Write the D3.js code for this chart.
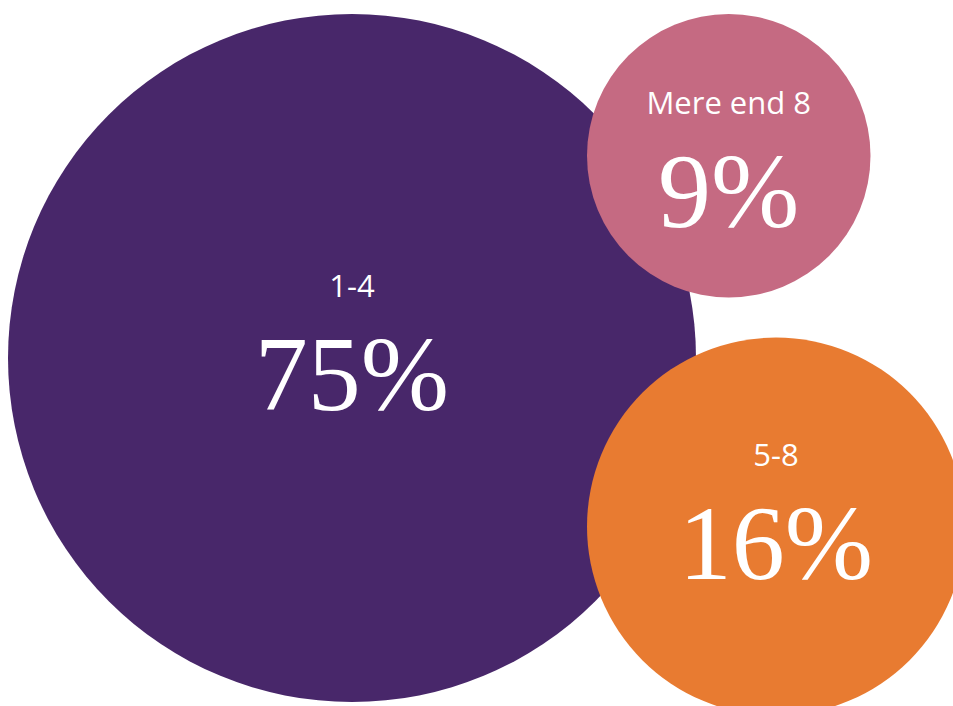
<!DOCTYPE html>
<html>
<head>
<meta charset="utf-8">
<script src="https://cdn.jsdelivr.net/npm/d3@7"></script>
<style>
  html, body { margin: 0; padding: 0; background: #ffffff; }
  svg { display: block; }
  .cat { font-family: "Open Sans", sans-serif; font-size: 31px; fill: #ffffff; }
  .val { font-family: "Liberation Serif", serif; font-size: 106px; fill: #ffffff; }
</style>
</head>
<body>
<svg id="chart"></svg>
<script>
// Share of respondents by group size
const categories = ["1-4", "Mere end 8", "5-8"];
const shares = [75, 9, 16];
const colors = ["#48276a", "#c56a82", "#e87b31"];

const width = 953, height = 706;

const svg = d3.select("#chart")
  .attr("width", width)
  .attr("height", height)
  .attr("viewBox", [0, 0, width, height]);

// Bubble area follows the share; the biggest bubble is capped to fit the frame.
const rScale = d3.scaleSqrt().domain([0, 16]).range([0, 189]);
const maxR = 344;
const radius = v => Math.min(rScale(v), maxR);

// Layout: main bubble at the left, the two smaller ones stacked in a column
// on its right-hand side, overlapping it slightly.
const margin = { left: 8, top: 14 };
const overlap = 109;   // how far the right column reaches into the main bubble
const gap = 40;        // vertical space between the two smaller bubbles

const r = shares.map(radius);
const main = { cx: margin.left + r[0], cy: margin.top + r[0] };
const colLeft = margin.left + 2 * r[0] - overlap;
const top1 = { cx: colLeft + r[1], cy: margin.top + r[1] };
const top2 = { cx: colLeft + r[2], cy: margin.top + 2 * r[1] + gap + r[2] };
const centers = [main, top1, top2];

// Vertical nudge of each text block relative to its bubble centre
const textShift = [0, 19, 0];

const nodes = categories.map((c, i) => ({
  category: c,
  value: shares[i],
  color: colors[i],
  r: r[i],
  x: centers[i].cx,
  y: centers[i].cy,
  shift: textShift[i]
}));

const g = svg.selectAll("g.bubble")
  .data(nodes)
  .join("g")
  .attr("class", "bubble")
  .attr("transform", d => `translate(${d.x},${d.y})`);

g.append("circle")
  .attr("r", d => d.r)
  .attr("fill", d => d.color);

g.append("text")
  .attr("class", "cat")
  .attr("text-anchor", "middle")
  .attr("y", d => -61 + d.shift)
  .text(d => d.category);

g.append("text")
  .attr("class", "val")
  .attr("text-anchor", "middle")
  .attr("y", d => 52 + d.shift)
  .text(d => d.value + "%");
</script>
</body>
</html>
